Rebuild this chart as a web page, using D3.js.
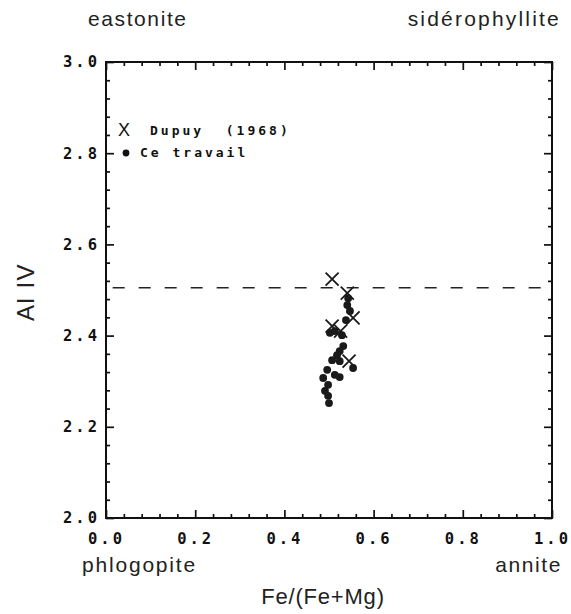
<!DOCTYPE html>
<html>
<head>
<meta charset="utf-8">
<script src="https://cdn.jsdelivr.net/npm/d3@7"></script>
<style>
  body { margin: 0; background: #fff; }
</style>
</head>
<body>
<div id="chart"></div>
<script>
// Dupuy (1968) - crosses
var dupuyFe = [0.507, 0.541, 0.554, 0.507, 0.526, 0.545];
var dupuyAl = [2.524, 2.493, 2.439, 2.421, 2.410, 2.344];

// Ce travail - dots
var ceFe = [0.543, 0.541, 0.547, 0.538, 0.513, 0.529, 0.502, 0.532, 0.524, 0.518, 0.507,
            0.524, 0.554, 0.496, 0.513, 0.524, 0.487, 0.498, 0.491, 0.498, 0.500];
var ceAl = [2.482, 2.467, 2.454, 2.434, 2.410, 2.401, 2.406, 2.377, 2.366, 2.357, 2.346,
            2.344, 2.329, 2.325, 2.314, 2.309, 2.307, 2.292, 2.279, 2.268, 2.252];

var xTicks = [0.0, 0.2, 0.4, 0.6, 0.8, 1.0];
var yTicks = [2.0, 2.2, 2.4, 2.6, 2.8, 3.0];
var minorStep = 0.04;
var refLine = 2.505;

var legendNames = ["Dupuy (1968)", "Ce travail"];

// set the dimensions and margins of the graph
var W = 571, H = 614;
var margin = { top: 62, right: 19, bottom: 96, left: 106 },
  width = W - margin.left - margin.right,
  height = H - margin.top - margin.bottom;

var svg = d3.select("#chart")
  .append("svg")
  .attr("width", W)
  .attr("height", H)
  .append("g")
  .attr("transform", "translate(" + margin.left + "," + margin.top + ")");

var x = d3.scaleLinear().domain([0, 1]).range([0, width]);
var y = d3.scaleLinear().domain([2, 3]).range([height, 0]);

var minorX = d3.range(0, 1.0001, minorStep).filter(function (v) {
  return xTicks.every(function (t) { return Math.abs(t - v) > 1e-6; });
});
var minorY = minorX.map(function (v) { return 2 + v; });

var tickFont = "'DejaVu Sans Mono', monospace";

function styleAxis(g) {
  g.select(".domain").remove();
  g.selectAll("line").attr("stroke", "#111").attr("stroke-width", 1.7);
}

// major + minor ticks on all four sides (pointing inward)
svg.append("g")
  .attr("transform", "translate(0," + height + ")")
  .call(d3.axisBottom(x).tickValues(xTicks).tickSize(-8).tickPadding(15)
    .tickFormat(d3.format(".1f")))
  .call(styleAxis)
  .selectAll("text")
  .attr("font-family", tickFont)
  .attr("font-weight", "bold")
  .attr("font-size", "15.5px")
  .attr("letter-spacing", "3px")
  .attr("fill", "#111");

svg.append("g")
  .attr("transform", "translate(0," + height + ")")
  .call(d3.axisBottom(x).tickValues(minorX).tickSize(-4).tickFormat(""))
  .call(styleAxis);

svg.append("g")
  .call(d3.axisTop(x).tickValues(xTicks).tickSize(-8).tickFormat(""))
  .call(styleAxis);
svg.append("g")
  .call(d3.axisTop(x).tickValues(minorX).tickSize(-4).tickFormat(""))
  .call(styleAxis);

svg.append("g")
  .call(d3.axisLeft(y).tickValues(yTicks).tickSize(-8).tickPadding(6)
    .tickFormat(d3.format(".1f")))
  .call(styleAxis)
  .selectAll("text")
  .attr("font-family", tickFont)
  .attr("font-weight", "bold")
  .attr("font-size", "15.5px")
  .attr("letter-spacing", "3px")
  .attr("fill", "#111");

svg.append("g")
  .call(d3.axisLeft(y).tickValues(minorY).tickSize(-4).tickFormat(""))
  .call(styleAxis);

svg.append("g")
  .attr("transform", "translate(" + width + ",0)")
  .call(d3.axisRight(y).tickValues(yTicks).tickSize(-8).tickFormat(""))
  .call(styleAxis);
svg.append("g")
  .attr("transform", "translate(" + width + ",0)")
  .call(d3.axisRight(y).tickValues(minorY).tickSize(-4).tickFormat(""))
  .call(styleAxis);

// frame
svg.append("rect")
  .attr("x", 0).attr("y", 0)
  .attr("width", width).attr("height", height)
  .attr("fill", "none")
  .attr("stroke", "#111")
  .attr("stroke-width", 2);

// dashed reference line
svg.append("line")
  .attr("x1", x(0.015)).attr("x2", x(1))
  .attr("y1", y(refLine)).attr("y2", y(refLine))
  .attr("stroke", "#222")
  .attr("stroke-width", 1.6)
  .attr("stroke-dasharray", "12,14");

// dots
svg.selectAll("circle.ce")
  .data(ceFe.map(function (d, i) { return { fe: d, al: ceAl[i] }; }))
  .enter()
  .append("circle")
  .attr("class", "ce")
  .attr("cx", function (d) { return x(d.fe); })
  .attr("cy", function (d) { return y(d.al); })
  .attr("r", 3.9)
  .attr("fill", "#1a1a1a");

// crosses
var crossHalf = 6.5;
svg.selectAll("path.dupuy")
  .data(dupuyFe.map(function (d, i) { return { fe: d, al: dupuyAl[i] }; }))
  .enter()
  .append("path")
  .attr("class", "dupuy")
  .attr("d", function (d) {
    var cx = x(d.fe), cy = y(d.al), p = d3.path();
    p.moveTo(cx - crossHalf, cy - crossHalf); p.lineTo(cx + crossHalf, cy + crossHalf);
    p.moveTo(cx + crossHalf, cy - crossHalf); p.lineTo(cx - crossHalf, cy + crossHalf);
    return p.toString();
  })
  .attr("stroke", "#1a1a1a")
  .attr("stroke-width", 1.8)
  .attr("fill", "none");

// legend
var legend = svg.append("g");
legend.append("text")
  .attr("x", 18).attr("y", 74)
  .attr("text-anchor", "middle")
  .attr("font-family", "'Liberation Sans', Arial, sans-serif")
  .attr("font-size", "18px")
  .attr("fill", "#111")
  .text("X");
legend.append("circle")
  .attr("cx", 20).attr("cy", 91)
  .attr("r", 3.4)
  .attr("fill", "#111");
legend.selectAll("text.lg")
  .data(legendNames)
  .enter()
  .append("text")
  .attr("class", "lg")
  .attr("x", function (d, i) { return i === 0 ? 44 : 34; })
  .attr("y", function (d, i) { return 73 + i * 22; })
  .attr("font-family", tickFont)
  .attr("font-weight", "bold")
  .attr("font-size", "13px")
  .attr("letter-spacing", "3px")
  .attr("fill", "#111")
  .attr("xml:space", "preserve")
  .text(function (d) { return d.replace(" (", "  ("); });

// corner labels and axis titles
var sans = "'Liberation Sans', Arial, sans-serif";
var root = d3.select("#chart svg");

function label(txt, px, py, anchor, size, spacing) {
  return root.append("text")
    .attr("x", px).attr("y", py)
    .attr("text-anchor", anchor)
    .attr("font-family", sans)
    .attr("font-size", size + "px")
    .attr("letter-spacing", spacing + "px")
    .attr("fill", "#222")
    .text(txt);
}

label("eastonite", 88, 26, "start", 21, 1.6);
label("sidérophyllite", 561, 26, "end", 21, 2.2);
label("phlogopite", 82, 572, "start", 21, 1.8);
label("annite", 562, 572, "end", 21, 1.6);
label("Fe/(Fe+Mg)", 323, 604, "middle", 22, 0.8);

root.append("text")
  .attr("transform", "translate(34,292) rotate(-90)")
  .attr("text-anchor", "middle")
  .attr("font-family", sans)
  .attr("font-size", "24px")
  .attr("letter-spacing", "1.5px")
  .attr("fill", "#222")
  .text("Al IV");
</script>
</body>
</html>
